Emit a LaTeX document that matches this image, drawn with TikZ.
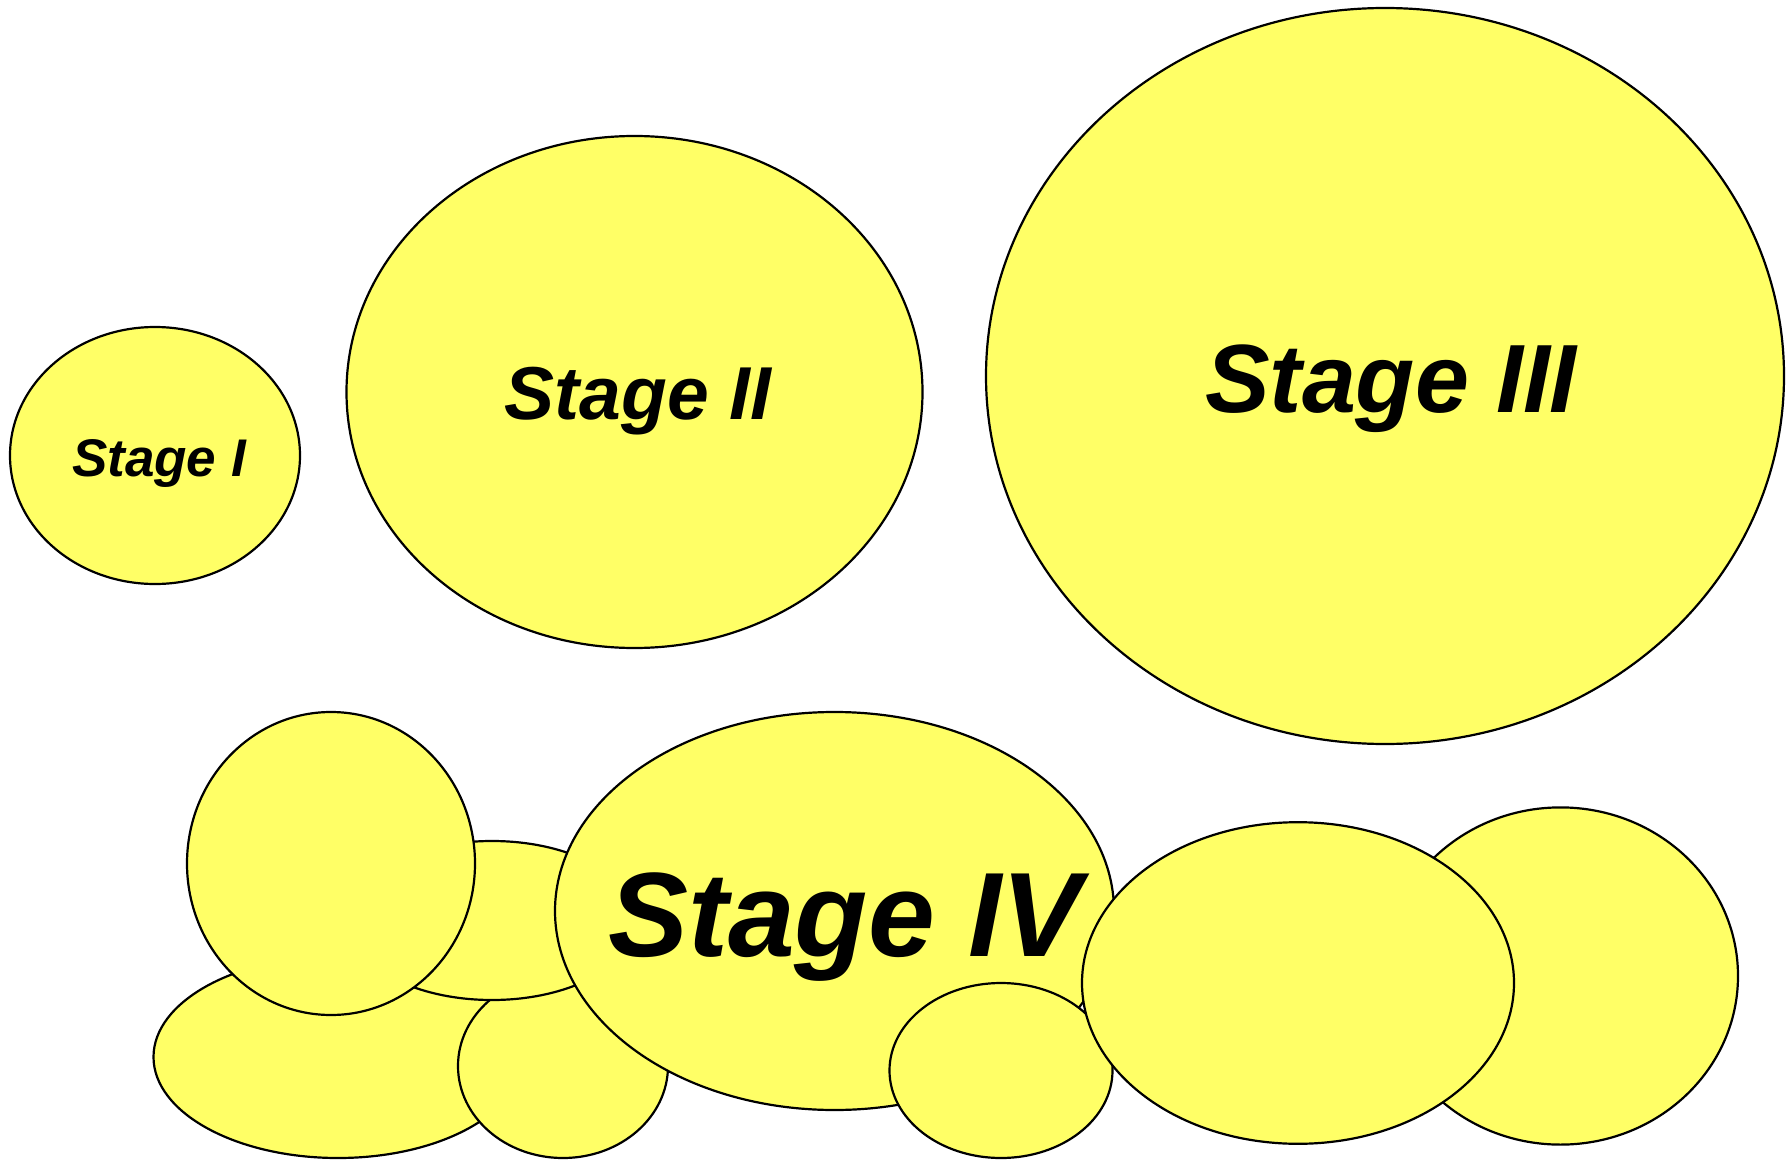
\documentclass[tikz,border=0pt]{standalone}
\usepackage{fontspec}
\setmainfont{Liberation Sans}
\definecolor{blobfill}{RGB}{255,255,102}
\tikzset{
  blob/.style={draw=black, line width=2.2pt, fill=blobfill},
  stagelabel/.style={anchor=base, inner sep=0pt, font=\bfseries\itshape},
}
\begin{document}
\begin{tikzpicture}[x=1pt, y=-1pt]
\useasboundingbox (0,0) rectangle (1786,1161);

% single cells
\draw[blob] (155,455.5) ellipse [x radius=145, y radius=128.5];
\draw[blob] (634.5,392) ellipse [x radius=288, y radius=256];
\draw[blob] (1385,376) ellipse [x radius=399, y radius=368];

% cluster, back to front
\draw[blob] (338,1057) ellipse [x radius=184.5, y radius=101];
\draw[blob] (563,1066) ellipse [x radius=105, y radius=92];
\draw[blob] (492,920.5) ellipse [x radius=144, y radius=79.5];
\draw[blob] (331,863.5) ellipse [x radius=144, y radius=151.5];
\draw[blob] (834.5,911) ellipse [x radius=279.5, y radius=199];
\draw[blob] (1001,1070.5) ellipse [x radius=111.5, y radius=87.5];
\draw[blob] (1560.5,976) ellipse [x radius=177.5, y radius=168.6];
\draw[blob] (1298,983) ellipse [x radius=216, y radius=160.8];

% labels
\node[stagelabel, font=\fontsize{53}{60}\selectfont\bfseries\itshape] (s1) at (159,476) {Stage I};
\node[stagelabel, font=\fontsize{75}{80}\selectfont\bfseries\itshape] (s2) at (638,419) {Stage II};
\node[stagelabel, font=\fontsize{97}{100}\selectfont\bfseries\itshape] (s3) at (1391,412) {Stage III};
\node[stagelabel, font=\fontsize{120}{125}\selectfont\bfseries\itshape] (s4) at (845,956) {Stage IV};
\end{tikzpicture}
\end{document}
